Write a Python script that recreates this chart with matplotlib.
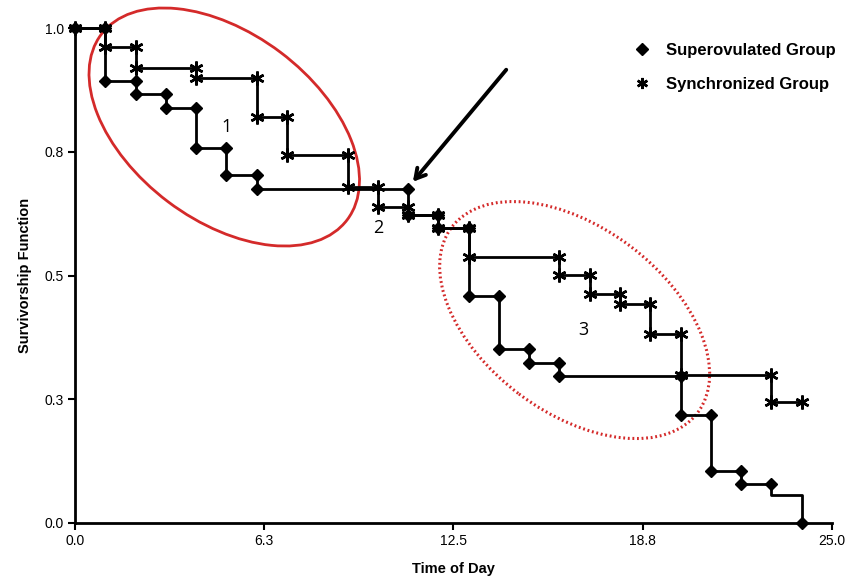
import matplotlib
matplotlib.use("Agg")
import matplotlib.pyplot as plt
from matplotlib.lines import Line2D
from matplotlib.patches import Ellipse
from matplotlib.transforms import ScaledTranslation

# Kaplan-Meier style survival steps
super_days = [1, 2, 3, 4, 5, 6, 11, 12, 13, 14, 15, 16, 20, 21, 22, 23, 24]
super_surv = [0.893, 0.867, 0.838, 0.757, 0.703, 0.675, 0.622, 0.596, 0.459,
              0.352, 0.323, 0.297, 0.218, 0.105, 0.079, 0.057, 0.0]

sync_days = [1, 2, 4, 6, 7, 9, 10, 11, 12, 13, 16, 17, 18, 19, 20, 23]
sync_surv = [0.962, 0.919, 0.899, 0.820, 0.743, 0.679, 0.638, 0.622, 0.596,
             0.537, 0.501, 0.463, 0.442, 0.382, 0.299, 0.244]
sync_end = 24

xticks = [0, 6.25, 12.5, 18.75, 25]
xlabels = ["0.0", "6.3", "12.5", "18.8", "25.0"]
yticks = [0, 0.25, 0.5, 0.75, 1.0]
ylabels = ["0.0", "0.3", "0.5", "0.8", "1.0"]

plt.rcParams['font.family'] = ['Liberation Sans', 'DejaVu Sans']


def steps(days, surv, end=None):
    xs = [0]
    ys = [1.0]
    prev = 1.0
    for d, s in zip(days, surv):
        xs += [d, d]
        ys += [prev, s]
        prev = s
    if end is not None:
        xs.append(end)
        ys.append(prev)
    return xs, ys


fig = plt.figure(figsize=(8.51, 5.80), dpi=100)
ax = fig.add_axes([0.0881, 0.0983, 0.8896, 0.8534])

x1, y1 = steps(sync_days, sync_surv, sync_end)
ax.plot(x1, y1, color="black", lw=2, marker=(6, 2, 0), ms=10, mew=1.8,
        clip_on=False, zorder=3)
x2, y2 = steps(super_days, super_surv)
# the last little step has only tick marks, no diamonds
n = len(x2)
marks = [i for i in range(n) if i not in (n - 3, n - 2)]
ax.plot(x2, y2, color="black", lw=2, marker="D", ms=6, markevery=marks,
        clip_on=False, zorder=4)

ax.set_xlim(0, 25)
ax.set_ylim(0, 1)
ax.set_xticks(xticks)
ax.set_xticklabels(xlabels)
ax.set_yticks(yticks)
ax.set_yticklabels(ylabels)
ax.tick_params(labelsize=10, width=1.5, length=5, pad=3)
for s in ["top", "right"]:
    ax.spines[s].set_visible(False)
for s in ["left", "bottom"]:
    ax.spines[s].set_linewidth(2)

ax.set_xlabel("Time of Day", fontsize=10.5, fontweight="bold", labelpad=10)
ax.set_ylabel("Survivorship Function", fontsize=10.5, fontweight="bold", labelpad=9)

# legend, markers only
handles = [Line2D([], [], color="black", marker="D", ls="none", ms=6),
           Line2D([], [], color="black", marker=(6, 2, 0), ls="none", ms=8, mew=1.8)]
ax.legend(handles, ["Superovulated Group", "Synchronized Group"], frameon=False,
          loc="upper right", bbox_to_anchor=(1.025, 1.0), handletextpad=0.45,
          labelspacing=1.15, prop={"weight": "bold", "size": 12})

# highlighted regions (sizes in inches around a data point)
e1 = Ellipse((0, 0), 3.08, 1.87, angle=-37, fill=False, ec="#d42a2a", lw=2,
             clip_on=False,
             transform=fig.dpi_scale_trans + ScaledTranslation(4.93, 0.80, ax.transData))
e2 = Ellipse((0, 0), 3.08, 1.85, angle=-37, fill=False, ec="#d42a2a", lw=2.2,
             ls=(0, (0.6, 0.9)), clip_on=False,
             transform=fig.dpi_scale_trans + ScaledTranslation(16.5, 0.41, ax.transData))
ax.add_patch(e1)
ax.add_patch(e2)

ax.text(5.0, 0.80, "1", fontsize=13, ha="center", va="center", family="Open Sans")
ax.text(10.0, 0.595, "2", fontsize=13, ha="center", va="center", family="Open Sans")
ax.text(16.8, 0.39, "3", fontsize=13, ha="center", va="center", family="Open Sans")

ax.annotate("", xy=(11.1, 0.685), xytext=(14.3, 0.92),
            arrowprops=dict(arrowstyle="->,head_length=0.7,head_width=0.4",
                            color="black", lw=2.8))

fig.savefig("out.png", dpi=100)
